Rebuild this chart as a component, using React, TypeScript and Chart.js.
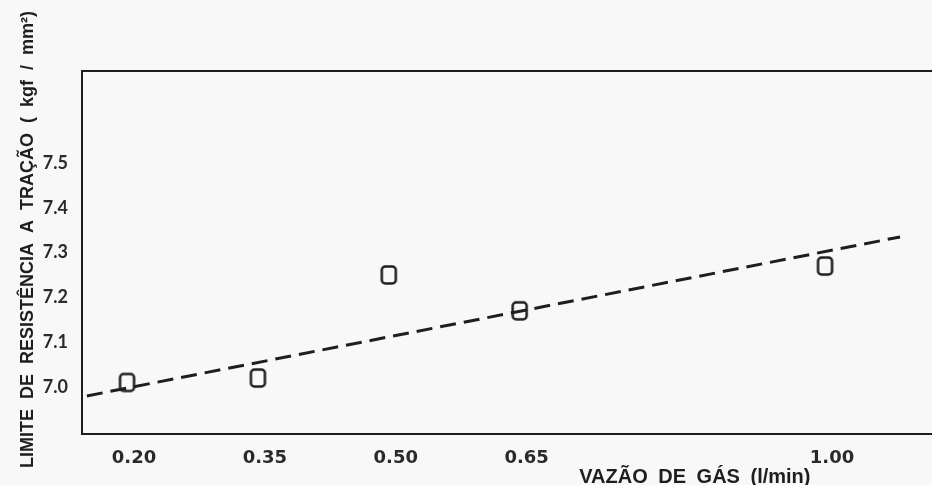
import React, { useEffect, useRef } from "react";
import { Chart, registerables } from "chart.js";
Chart.register(...registerables);

// ---- data ----
const gasFlow = [0.2, 0.35, 0.5, 0.65, 1.0];
const tensileStrength = [7.01, 7.02, 7.25, 7.17, 7.27];
const xTickValues = [0.2, 0.35, 0.5, 0.65, 1.0];
const yTickValues = [7.0, 7.1, 7.2, 7.3, 7.4, 7.5];
const trendX = [0.154, 1.086];
const trendY = [6.98, 7.335];
const xTitle = "VAZÃO DE GÁS (l/min)";
const yTitle = "LIMITE DE RESISTÊNCIA A TRAÇÃO ( kgf / mm²)";

const INK = "#1e1e1e";

function makeSquare(): HTMLCanvasElement {
  const c = document.createElement("canvas");
  c.width = 19;
  c.height = 22;
  const g = c.getContext("2d")!;
  g.strokeStyle = INK;
  g.lineWidth = 2.5;
  g.beginPath();
  (g as any).roundRect(2.5, 2.5, 14, 17, 3.5);
  g.stroke();
  return c;
}

const titlePlugin = {
  id: "manualTitles",
  afterDraw(chart: any) {
    const ctx = chart.ctx as any;
    const { left, right, top, bottom } = chart.chartArea;
    ctx.save();
    ctx.fillStyle = INK;
    ctx.textAlign = "center";
    ctx.textBaseline = "middle";
    ctx.font = 'bold 20px "Liberation Sans", Arial, sans-serif';
    ctx.wordSpacing = "5px";
    ctx.fillText(xTitle, left + (right - left) * 0.721, bottom + 43);
    ctx.font = 'bold 18px "Liberation Sans", Arial, sans-serif';
    ctx.wordSpacing = "5px";
    ctx.translate(28, (top + bottom) / 2 - 13);
    ctx.rotate(-Math.PI / 2);
    ctx.fillText(yTitle, 0, 0);
    ctx.restore();
  },
};

export default function App() {
  const ref = useRef<HTMLCanvasElement>(null);
  useEffect(() => {
    if (!ref.current) return;
    const square = makeSquare();
    const chart = new Chart(ref.current, {
      type: "scatter",
      data: {
        datasets: [
          {
            type: "line",
            data: trendX.map((x, i) => ({ x, y: trendY[i] })),
            borderColor: INK,
            borderWidth: 3,
            borderDash: [16, 8],
            pointRadius: 0,
            fill: false,
          },
          {
            type: "scatter",
            data: gasFlow.map((x, i) => ({ x, y: tensileStrength[i] })),
            pointStyle: square as any,
            pointRadius: 8,
            showLine: false,
          },
        ],
      },
      plugins: [titlePlugin],
      options: {
        responsive: false,
        animation: false,
        layout: { padding: 0, autoPadding: false },
        plugins: { legend: { display: false }, tooltip: { enabled: false }, title: { display: false } },
        scales: {
          x: {
            type: "linear",
            position: "bottom",
            min: 0.1484,
            max: 1.1226,
            grid: { display: false, drawTicks: false },
            border: { display: true, color: INK, width: 2 },
            afterBuildTicks: (s: any) => {
              s.ticks = xTickValues.map((v) => ({ value: v }));
            },
            afterFit: (s: any) => {
              s.height = 51;
              s.paddingLeft = 0;
              s.paddingRight = 0;
            },
            ticks: {
              padding: 14,
              labelOffset: 7,
              maxRotation: 0,
              color: "#2a2a2a",
              font: { family: '"DejaVu Sans"', size: 18, weight: "bold" },
              callback: (v: any) => Number(v).toFixed(2),
            },
          },
          x2: {
            type: "linear",
            position: "top",
            min: 0.1484,
            max: 1.1226,
            grid: { display: false, drawTicks: false },
            border: { display: true, color: INK, width: 2 },
            ticks: { display: false },
            afterFit: (s: any) => {
              s.height = 71;
              s.paddingLeft = 0;
              s.paddingRight = 0;
            },
          },
          y: {
            type: "linear",
            min: 6.895,
            max: 7.7054,
            grid: { display: false, drawTicks: false },
            border: { display: true, color: INK, width: 2 },
            afterBuildTicks: (s: any) => {
              s.ticks = yTickValues.map((v) => ({ value: v }));
            },
            afterFit: (s: any) => {
              s.width = 82;
              s.paddingTop = 0;
              s.paddingBottom = 0;
            },
            ticks: {
              padding: 14,
              color: "#2a2a2a",
              font: { family: "Lato", size: 18, weight: "bold" },
              callback: (v: any) => Number(v).toFixed(1),
            },
          },
        },
      },
    });
    return () => chart.destroy();
  }, []);
  return (
    <div style={{ position: "fixed", left: 0, top: 0, width: 932, height: 485, background: "#f8f8f8" }}>
      <canvas ref={ref} width={932} height={485} style={{ display: "block" }} />
    </div>
  );
}
